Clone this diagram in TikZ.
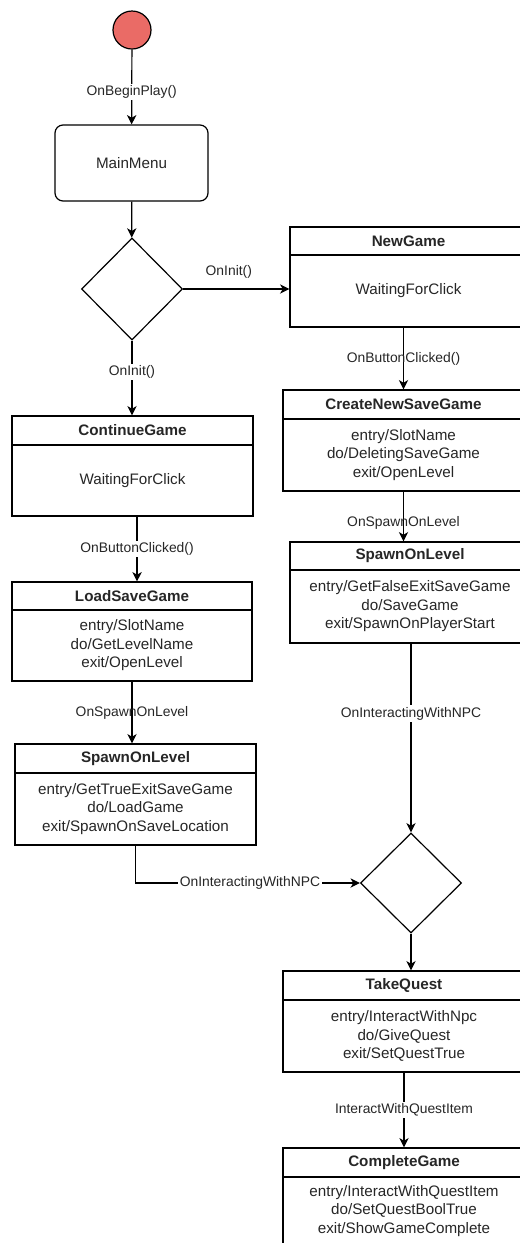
\documentclass[tikz,border=0pt]{standalone}
\usepackage{fontspec}
\setmainfont{Liberation Sans}
\usetikzlibrary{arrows.meta,shapes.geometric,calc}
\definecolor{startred}{HTML}{EA6B66}
\definecolor{ink}{HTML}{262626}

\tikzset{
  line/.style={draw=black, line width=0.9pt},
  flow/.style={line, -{Stealth[length=7pt,width=7pt,inset=2pt]}},
  statebox/.style={draw=black, line width=0.9pt, rectangle, inner sep=0pt},
  ttl/.style={font=\fontsize{11.4}{13.9}\selectfont\bfseries, text=ink, inner sep=0pt},
  bdy/.style={font=\fontsize{11.4}{13.9}\selectfont, text=ink, align=center, inner sep=0pt},
  lbl/.style={font=\fontsize{10.4}{12.5}\selectfont, text=ink, inner sep=1.2pt},
  lblw/.style={lbl, fill=white},
}

% state box: name, x1, y1, x2, y2, y of header rule, title, body
\newcommand\stbox[8]{%
  \node[statebox, minimum width={(#4-#2)*0.75pt}, minimum height={(#5-#3)*0.75pt}]
    (#1) at ({(#2+#4)/2},{(#3+#5)/2}) {};
  \draw[line] (#2,#6) -- (#4,#6);
  \node[ttl] (#1-t) at ({(#2+#4)/2},{(#3+#6)/2}) {#7};
  \node[bdy] (#1-b) at ({(#2+#4)/2},{(#6+#5)/2}) {#8};
}

\begin{document}
\begin{tikzpicture}[x=0.75pt,y=-0.75pt]
\useasboundingbox (0,0) rectangle (520,1243);
\clip (0,0) rectangle (520,1243);

% initial state and main menu
\node[circle, draw=black, line width=0.9pt, fill=startred, minimum size=28.5pt, inner sep=0pt]
  (start) at (132,30) {};
\node[draw=black, line width=0.9pt, rounded corners=6pt, minimum width=114.75pt,
  minimum height=57pt, inner sep=0pt, font=\fontsize{11.4}{13.9}\selectfont, text=ink]
  (mm) at (131.5,163) {MainMenu};

% decisions
\node[diamond, draw=black, line width=0.9pt, minimum width=75.75pt, minimum height=76.5pt,
  inner sep=0pt] (d1) at (132,289) {};
\node[diamond, draw=black, line width=0.9pt, minimum width=75.75pt, minimum height=75pt,
  inner sep=0pt] (d2) at (411,883) {};

% states
\stbox{ng}{290}{227}{527}{327}{255}{NewGame}{WaitingForClick}
\stbox{cns}{283}{390}{524}{491}{419}{CreateNewSaveGame}{entry/SlotName\\do/DeletingSaveGame\\exit/OpenLevel}
\stbox{sr}{290}{542}{530}{643}{570}{SpawnOnLevel}{entry/GetFalseExitSaveGame\\do/SaveGame\\exit/SpawnOnPlayerStart}
\stbox{cg}{12}{416}{253}{516}{445}{ContinueGame}{WaitingForClick}
\stbox{lsg}{12}{582}{252}{681}{610}{LoadSaveGame}{entry/SlotName\\do/GetLevelName\\exit/OpenLevel}
\stbox{sl}{15}{744}{256}{845}{773}{SpawnOnLevel}{entry/GetTrueExitSaveGame\\do/LoadGame\\exit/SpawnOnSaveLocation}
\stbox{tq}{283}{971}{525}{1072}{1000}{TakeQuest}{entry/InteractWithNpc\\do/GiveQuest\\exit/SetQuestTrue}
\stbox{cmp}{283}{1148}{525}{1245}{1177}{CompleteGame}{entry/InteractWithQuestItem\\do/SetQuestBoolTrue\\exit/ShowGameComplete}

% transitions
\draw[flow] (start) -- node[lblw, pos=0.57] {OnBeginPlay()} (mm);
\draw[flow] (mm) -- (d1);
\draw[flow] (d1.east) -- node[lbl, pos=0.43, yshift=12.75pt] {OnInit()} (d1.east -| ng.west);
\draw[flow] (d1.south) -- node[lblw, pos=0.42] {OnInit()} (d1.south |- cg.north);
\draw[flow] (cns.north |- ng.south) -- node[lbl] {OnButtonClicked()} (cns.north);
\draw[flow] ([xshift=3.4pt]cg.south) -- node[lblw] {OnButtonClicked()} ([xshift=3.4pt]cg.south |- lsg.north);
\draw[flow] (lsg.south) -- node[lbl] {OnSpawnOnLevel} (lsg.south |- sl.north);
\draw[flow] (cns.south) -- node[lbl, pos=0.63] {OnSpawnOnLevel} (cns.south |- sr.north);
\draw[flow] (d2.north |- sr.south) -- node[lblw, pos=0.37] {OnInteractingWithNPC} (d2.north);
\draw[flow] (sl.south) |- node[lblw, pos=0.755] {OnInteractingWithNPC} (d2.west);
\draw[flow] (d2.south) -- (d2.south |- tq.north);
\draw[flow] (tq.south) -- node[lblw] {InteractWithQuestItem} (tq.south |- cmp.north);
\end{tikzpicture}
\end{document}
